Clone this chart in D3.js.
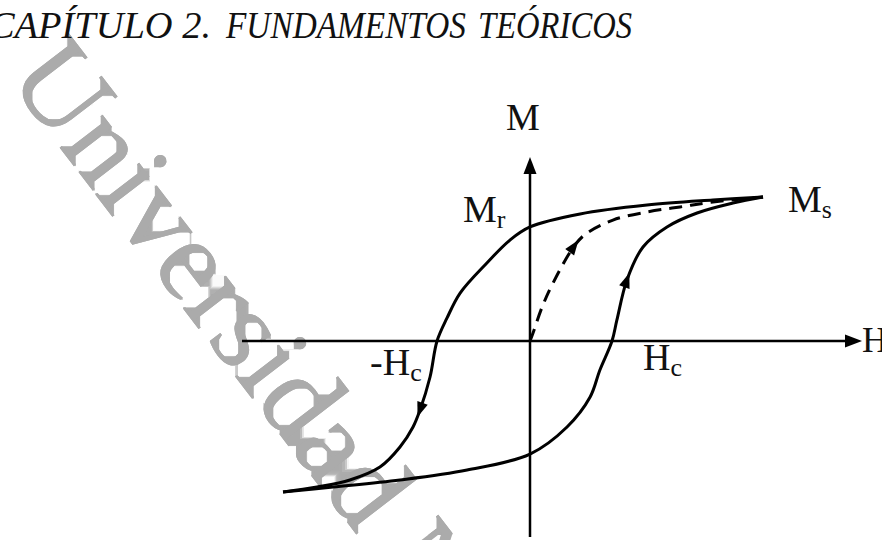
<!DOCTYPE html>
<html><head><meta charset="utf-8">
<script src="https://cdn.jsdelivr.net/npm/d3@7"></script>
<style>html,body{margin:0;padding:0;background:#fff;overflow:hidden}</style>
</head><body><svg id="c" width="882" height="540"></svg>
<script>
// ---------- data (H, M in units of saturation) ----------
const headerWords = ["CAPÍTULO 2.", "FUNDAMENTOS", "TEÓRICOS"];
const watermarkText = "Universidad Nacional";
const hAxisLabel = "H";
const mAxisLabel = "M";
const hAxisExtent = [-1.236, 1.425];
const mAxisExtent = [-1.361, 1.278];

// descending branch: from +Ms to -Ms
const descendingH = [1.0, 0.785, 0.502, 0.215, 0.0, -0.086, -0.185, -0.300, -0.356, -0.399, -0.429, -0.472, -0.502, -0.558, -0.644, -0.773, -0.914, -1.060];
const descendingM = [1.0, 0.979, 0.944, 0.882, 0.792, 0.701, 0.542, 0.333, 0.160, 0.0, -0.250, -0.479, -0.597, -0.736, -0.875, -0.965, -1.014, -1.049];
// ascending branch: from -Ms to +Ms
const ascendingH = [-1.060, -0.845, -0.558, -0.270, 0.0, 0.159, 0.258, 0.300, 0.352, 0.373, 0.416, 0.485, 0.588, 0.717, 0.871, 1.0];
const ascendingM = [-1.049, -1.014, -0.965, -0.896, -0.785, -0.597, -0.389, -0.201, 0.0, 0.146, 0.424, 0.653, 0.792, 0.889, 0.958, 1.0];
// initial magnetization (virgin) curve
const virginH = [0.0, 0.013, 0.052, 0.099, 0.193, 0.245, 0.356, 0.502, 0.644, 0.785, 1.0];
const virginM = [0.0, 0.056, 0.236, 0.403, 0.667, 0.750, 0.840, 0.896, 0.931, 0.965, 1.0];

// arrows on the curves: branch and M value where the arrow sits
const arrowBranch = ["descending", "ascending", "virgin"];
const arrowM = [-0.479, 0.424, 0.660];

// point labels
const labelMain = ["M", "M", "-H", "H"];
const labelSub = ["r", "s", "c", "c"];
const labelH = [0.0, 1.0, -0.399, 0.352];
const labelM = [0.792, 1.0, 0.0, 0.0];

// ---------- drawing ----------
const svg = d3.select("#c");
const x = d3.scaleLinear().domain([0, 1]).range([530, 763]);
const y = d3.scaleLinear().domain([0, 1]).range([341, 197]);

// closing filter so that the large watermark glyphs render solid
const f = svg.append("defs").append("filter").attr("id", "solid")
  .attr("filterUnits", "userSpaceOnUse")
  .attr("x", 0).attr("y", 0).attr("width", 882).attr("height", 540);
f.append("feMorphology").attr("in", "SourceGraphic").attr("operator", "dilate").attr("radius", 5).attr("result", "d");
f.append("feMorphology").attr("in", "d").attr("operator", "erode").attr("radius", 5).attr("result", "e");
f.append("feMerge").call(m => { m.append("feMergeNode").attr("in", "e"); m.append("feMergeNode").attr("in", "SourceGraphic"); });

// watermark
svg.append("g").attr("filter", "url(#solid)")
  .append("text")
  .attr("transform", "translate(6,78) rotate(52.5)")
  .attr("font-family", "Liberation Serif, serif")
  .attr("font-size", 118)
  .attr("fill", "#ababab")
  .text(watermarkText);

// header
const headerX = [-11, 226, 478];
const headerLen = [222, 240, 154];
const hdr = svg.append("text")
  .attr("y", 38)
  .attr("font-family", "Liberation Serif, serif")
  .attr("font-style", "italic")
  .attr("font-size", 37)
  .attr("fill", "#111");
headerWords.forEach((w, i) => {
  hdr.append("tspan").attr("x", headerX[i]).attr("textLength", headerLen[i])
    .attr("lengthAdjust", "spacingAndGlyphs").text(w);
});

const g = svg.append("g");
const ink = "#000";

// axes
const hx0 = x(hAxisExtent[0]), hx1 = x(hAxisExtent[1]);
const my0 = y(mAxisExtent[0]), my1 = y(mAxisExtent[1]);
g.append("line").attr("x1", hx0).attr("x2", hx1 - 12).attr("y1", y(0)).attr("y2", y(0))
  .attr("stroke", ink).attr("stroke-width", 2.5);
g.append("line").attr("x1", x(0)).attr("x2", x(0)).attr("y1", my0).attr("y2", my1 + 12)
  .attr("stroke", ink).attr("stroke-width", 2.5);
g.append("path").attr("d", `M${hx1},${y(0)} L${hx1-17},${y(0)-6.5} L${hx1-17},${y(0)+6.5}Z`).attr("fill", ink);
g.append("path").attr("d", `M${x(0)},${my1} L${x(0)-6.5},${my1+17} L${x(0)+6.5},${my1+17}Z`).attr("fill", ink);

// axis labels
const lf = "Liberation Serif, Times New Roman, serif";
g.append("text").attr("x", x(0) - 7).attr("y", my1 - 27).attr("text-anchor", "middle")
  .attr("font-family", lf).attr("font-size", 38).attr("fill", "#111").text(mAxisLabel);
g.append("text").attr("x", hx1).attr("y", y(0) + 11)
  .attr("font-family", lf).attr("font-size", 36).attr("fill", "#111").text(hAxisLabel);

// curves
const line = d3.line().x(d => x(d[0])).y(d => y(d[1])).curve(d3.curveCatmullRom.alpha(0.5));
const branches = {
  descending: d3.zip(descendingH, descendingM),
  ascending: d3.zip(ascendingH, ascendingM),
  virgin: d3.zip(virginH, virginM)
};
const paths = {};
for (const k of Object.keys(branches)) {
  paths[k] = g.append("path").attr("d", line(branches[k]))
    .attr("fill", "none").attr("stroke", ink).attr("stroke-width", 3)
    .attr("stroke-linejoin", "round")
    .attr("stroke-dasharray", k === "virgin" ? "13,8" : null);
}

// arrows on the curves
arrowBranch.forEach((b, i) => {
  const node = paths[b].node();
  const L = node.getTotalLength();
  const ty = y(arrowM[i]);
  let best = 0, bd = Infinity;
  for (let l = 0; l <= L; l += 0.5) {
    const p = node.getPointAtLength(l);
    const d = Math.abs(p.y - ty);
    if (d < bd) { bd = d; best = l; }
  }
  const p = node.getPointAtLength(best);
  const a = node.getPointAtLength(Math.max(0, best - 3));
  const c = node.getPointAtLength(Math.min(L, best + 3));
  let tx = c.x - a.x, tyy = c.y - a.y;
  const n = Math.hypot(tx, tyy); tx /= n; tyy /= n;
  const nx = -tyy, ny = tx;
  const len = 15, w = 5.5;
  const tip = [p.x + tx * len / 2, p.y + tyy * len / 2];
  const bl = [p.x - tx * len / 2 + nx * w, p.y - tyy * len / 2 + ny * w];
  const br = [p.x - tx * len / 2 - nx * w, p.y - tyy * len / 2 - ny * w];
  g.append("path").attr("d", `M${tip}L${bl}L${br}Z`).attr("fill", ink);
});

// point labels
const labelDX = [-67, 25, -67, 31];
const labelDY = [-5, 15, 34, 29];
labelMain.forEach((t, i) => {
  const tx = g.append("text")
    .attr("x", x(labelH[i]) + labelDX[i]).attr("y", y(labelM[i]) + labelDY[i])
    .attr("font-family", lf).attr("font-size", 38).attr("fill", "#111");
  tx.append("tspan").text(t);
  tx.append("tspan").attr("font-size", 26).attr("dy", 6).text(labelSub[i]);
});
</script></body></html>
